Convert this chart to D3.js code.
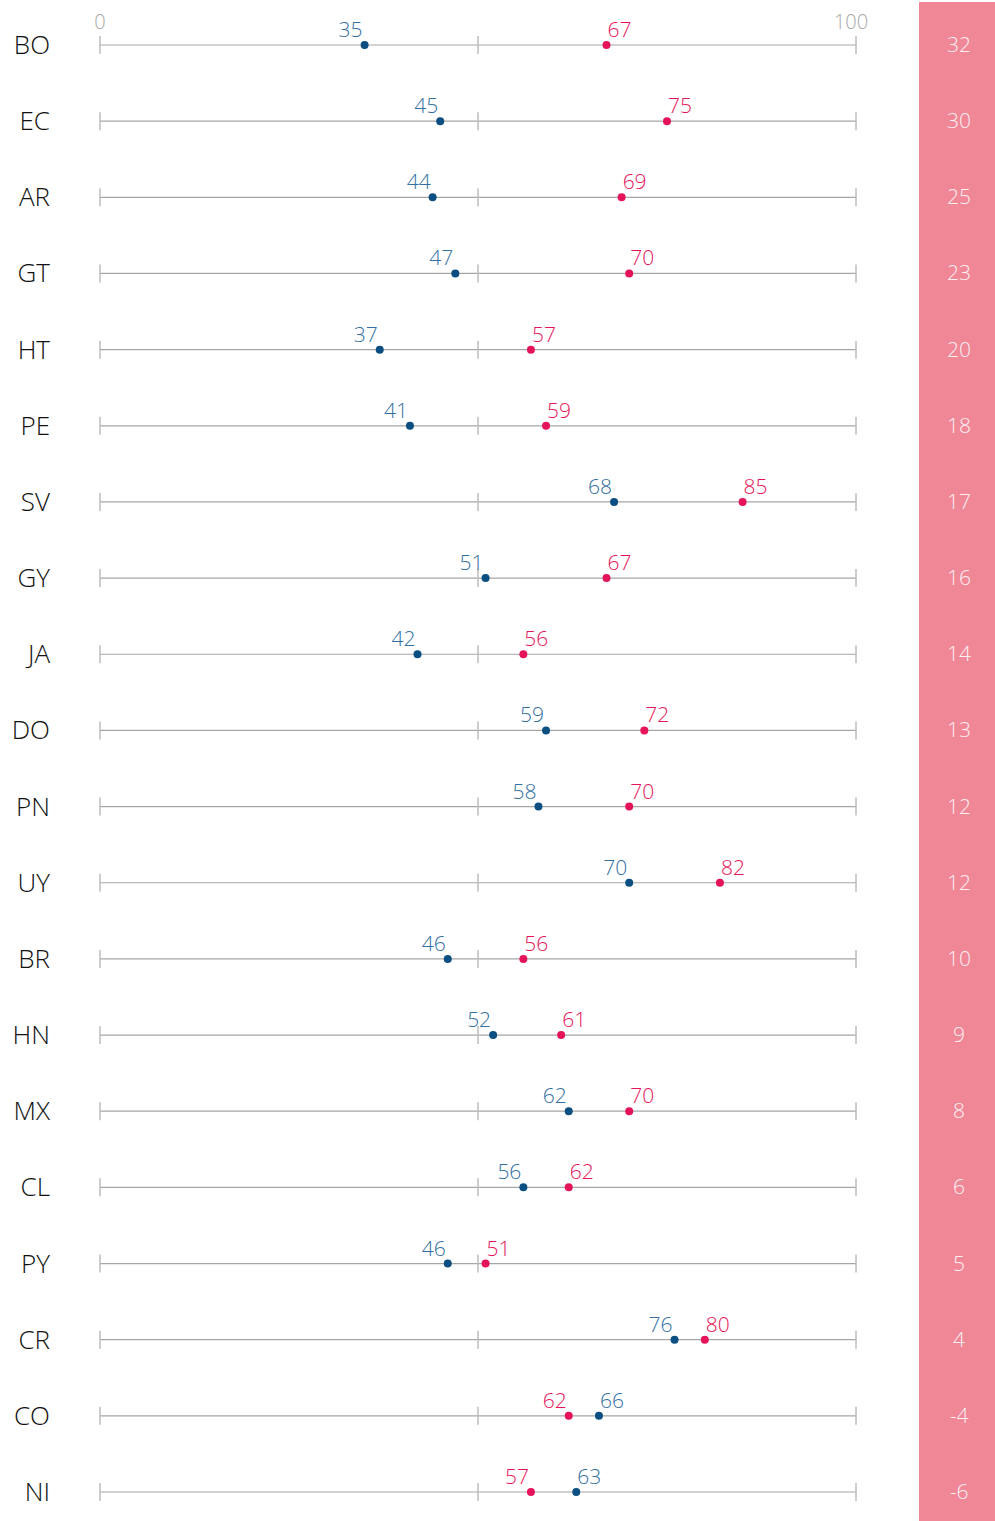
<!DOCTYPE html>
<html>
<head>
<meta charset="utf-8">
<script src="https://cdn.jsdelivr.net/npm/d3@7"></script>
<style>
  body { margin: 0; background: #fff; }
  svg { display: block; font-family: "Open Sans", sans-serif; font-weight: 300; }
</style>
</head>
<body>
<svg id="chart"></svg>
<script>
// countries, top to bottom
var countries = ["BO", "EC", "AR", "GT", "HT", "PE", "SV", "GY", "JA", "DO",
                 "PN", "UY", "BR", "HN", "MX", "CL", "PY", "CR", "CO", "NI"];
// blue series
var blueValues = [35, 45, 44, 47, 37, 41, 68, 51, 42, 59,
                  58, 70, 46, 52, 62, 56, 46, 76, 66, 63];
// pink series
var pinkValues = [67, 75, 69, 70, 57, 59, 85, 67, 56, 72,
                  70, 82, 56, 61, 70, 62, 51, 80, 62, 57];
// gap column on the right
var gaps = [32, 30, 25, 23, 20, 18, 17, 16, 14, 13,
            12, 12, 10, 9, 8, 6, 5, 4, -4, -6];
var axisTicks = [0, 50, 100];
var axisLabels = ["0", "", "100"];

var width = 995, height = 1521;
var blue = "#0b4f82", blueText = "#336fa1";
var pink = "#e5145a";

var svg = d3.select("#chart").attr("width", width).attr("height", height);

var x = d3.scaleLinear().domain([0, 100]).range([100, 856]);
var y = d3.scalePoint().domain(countries).range([45, 1492]);

// right panel
svg.append("rect")
  .attr("x", 919).attr("y", 2)
  .attr("width", width - 919).attr("height", height - 2)
  .attr("fill", "#f08797");

var data = countries.map(function (c, i) {
  return { country: c, blue: blueValues[i], pink: pinkValues[i], gap: gaps[i] };
});

var rows = svg.append("g").selectAll("g")
  .data(data)
  .join("g")
  .attr("transform", function (d) { return "translate(0," + y(d.country) + ")"; });

// axis line per row
rows.append("line")
  .attr("x1", x(0)).attr("x2", x(100))
  .attr("stroke", "#a6a6a6").attr("stroke-width", 1.2);

rows.selectAll(".tick")
  .data(axisTicks)
  .join("line")
  .attr("class", "tick")
  .attr("x1", function (t) { return x(t); })
  .attr("x2", function (t) { return x(t); })
  .attr("y1", -9).attr("y2", 9)
  .attr("stroke", "#bdbdbd").attr("stroke-width", 1.5);

// country labels
rows.append("text")
  .attr("x", 50).attr("y", 9)
  .attr("text-anchor", "end")
  .attr("font-size", 26)
  .attr("fill", "#111")
  .text(function (d) { return d.country; });

// dots and value labels
rows.each(function (d) {
  var g = d3.select(this);
  var pts = [
    { v: d.blue, fill: blue, text: blueText },
    { v: d.pink, fill: pink, text: pink }
  ];
  var lo = Math.min(d.blue, d.pink);
  pts.forEach(function (p) {
    g.append("circle")
      .attr("cx", x(p.v)).attr("cy", 0).attr("r", 4)
      .attr("fill", p.fill);
    var left = p.v === lo && d.blue !== d.pink;
    g.append("text")
      .attr("x", left ? x(p.v) - 2 : x(p.v) + 1)
      .attr("y", -8)
      .attr("text-anchor", left ? "end" : "start")
      .attr("font-size", 21)
      .attr("fill", p.text)
      .text(p.v);
  });
  g.append("text")
    .attr("x", 959).attr("y", 7)
    .attr("text-anchor", "middle")
    .attr("font-size", 21)
    .attr("fill", "#fdf0f2")
    .text(d.gap);
});

// top axis labels
svg.append("g").selectAll("text")
  .data(axisTicks)
  .join("text")
  .attr("x", function (t) { return t === 100 ? x(t) - 5 : x(t); })
  .attr("y", 29)
  .attr("text-anchor", "middle")
  .attr("font-size", 20)
  .attr("fill", "#a8a8a8")
  .text(function (t, i) { return axisLabels[i]; });
</script>
</body>
</html>
